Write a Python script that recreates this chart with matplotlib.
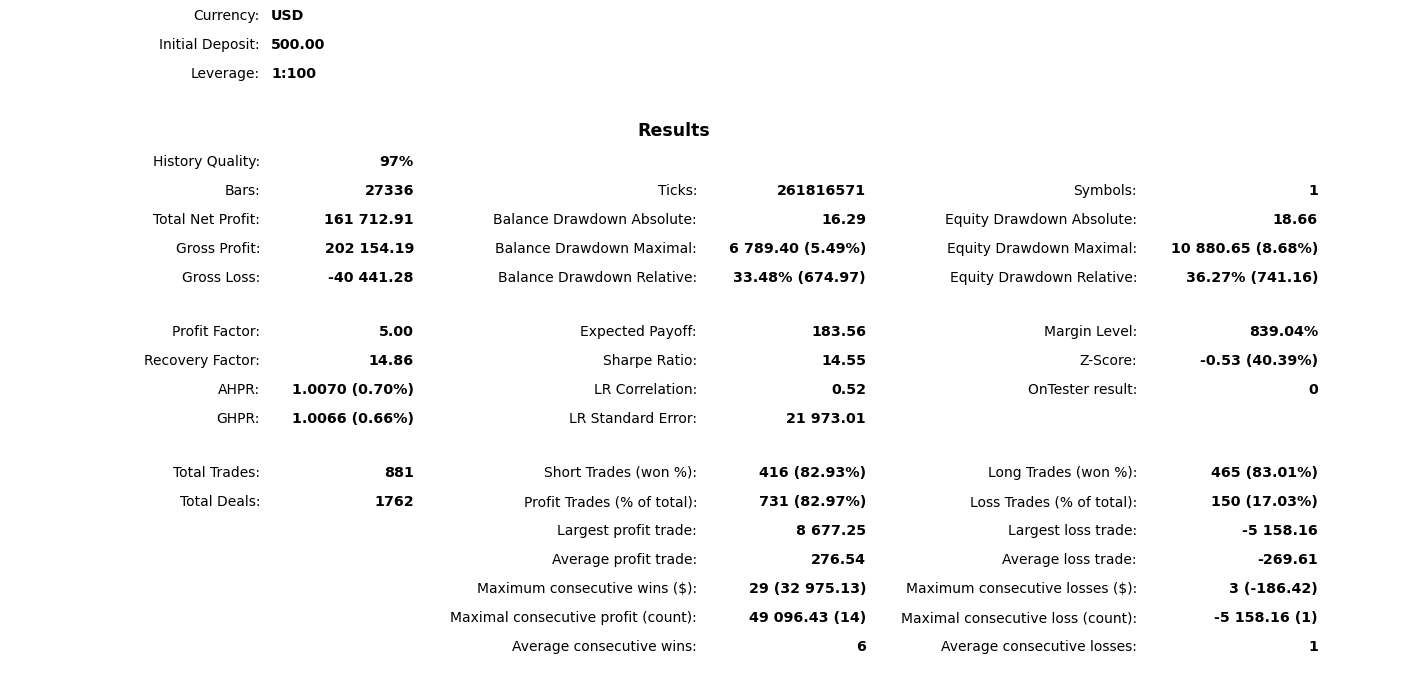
import matplotlib
matplotlib.use("Agg")
import matplotlib.pyplot as plt

W, H = 1408, 690

# header block
head_labels = ["Currency:", "Initial Deposit:", "Leverage:"]
head_values = ["USD", "500.00", "1:100"]

# results, column 1 (None = empty row)
col1_labels = ["History Quality:", "Bars:", "Total Net Profit:", "Gross Profit:", "Gross Loss:",
               "Profit Factor:", "Recovery Factor:", "AHPR:", "GHPR:",
               "Total Trades:", "Total Deals:"]
col1_values = ["97%", "27336", "161 712.91", "202 154.19", "-40 441.28",
               "5.00", "14.86", "1.0070 (0.70%)", "1.0066 (0.66%)",
               "881", "1762"]
col1_rows = [0, 1, 2, 3, 4, 5, 6, 7, 8, 9, 10]

col2_labels = ["Ticks:", "Balance Drawdown Absolute:", "Balance Drawdown Maximal:",
               "Balance Drawdown Relative:",
               "Expected Payoff:", "Sharpe Ratio:", "LR Correlation:", "LR Standard Error:",
               "Short Trades (won %):", "Profit Trades (% of total):", "Largest profit trade:",
               "Average profit trade:", "Maximum consecutive wins ($):",
               "Maximal consecutive profit (count):", "Average consecutive wins:"]
col2_values = ["261816571", "16.29", "6 789.40 (5.49%)", "33.48% (674.97)",
               "183.56", "14.55", "0.52", "21 973.01",
               "416 (82.93%)", "731 (82.97%)", "8 677.25", "276.54", "29 (32 975.13)",
               "49 096.43 (14)", "6"]
col2_rows = [1, 2, 3, 4, 5, 6, 7, 8, 9, 10, 11, 12, 13, 14, 15]

col3_labels = ["Symbols:", "Equity Drawdown Absolute:", "Equity Drawdown Maximal:",
               "Equity Drawdown Relative:",
               "Margin Level:", "Z-Score:", "OnTester result:",
               "Long Trades (won %):", "Loss Trades (% of total):", "Largest loss trade:",
               "Average loss trade:", "Maximum consecutive losses ($):",
               "Maximal consecutive loss (count):", "Average consecutive losses:"]
col3_values = ["1", "18.66", "10 880.65 (8.68%)", "36.27% (741.16)",
               "839.04%", "-0.53 (40.39%)", "0",
               "465 (83.01%)", "150 (17.03%)", "-5 158.16", "-269.61", "3 (-186.42)",
               "-5 158.16 (1)", "1"]
col3_rows = [1, 2, 3, 4, 5, 6, 7, 9, 10, 11, 12, 13, 14, 15]

LABEL_FONT = dict(family="DejaVu Sans", size=10.0, color="#000000")
VALUE_FONT = dict(family="DejaVu Sans", size=10.3, weight="bold", color="#000000")

fig = plt.figure(figsize=(W / 100, H / 100), dpi=100)
fig.patch.set_facecolor("white")


def put(x, y, s, ha, font):
    fig.text(x / W, 1 - y / H, s, ha=ha, va="center", **font)


def row_y(i):
    # 29 px per row, groups separated by an extra 25 px
    gap = 0 if i < 5 else (25 if i < 9 else 50)
    return 162 + 29 * i + gap


for i, (lab, val) in enumerate(zip(head_labels, head_values)):
    y = 16 + 29 * i
    put(260, y, lab, "right", LABEL_FONT)
    put(271, y, val, "left", VALUE_FONT)

put(674, 131, "Results", "center", dict(family="DejaVu Sans", size=12.5, weight="bold"))

columns = [
    (col1_labels, col1_values, col1_rows, 260, 414),
    (col2_labels, col2_values, col2_rows, 697, 866),
    (col3_labels, col3_values, col3_rows, 1137, 1318),
]
for labels, values, rows, lx, vx in columns:
    for lab, val, r in zip(labels, values, rows):
        y = row_y(r)
        put(lx, y, lab, "right", LABEL_FONT)
        put(vx, y, val, "right", VALUE_FONT)

fig.savefig("out.png", dpi=100, facecolor="white")
